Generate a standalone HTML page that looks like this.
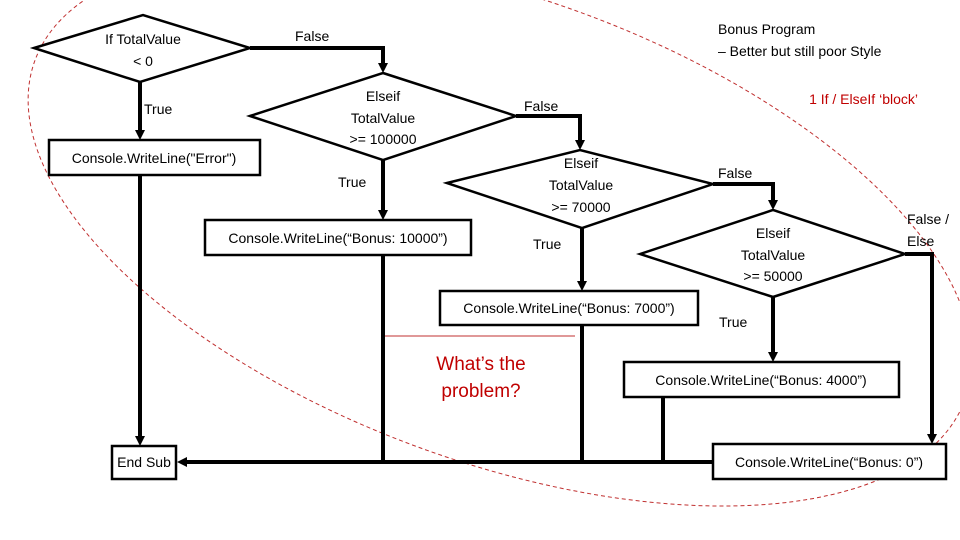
<!DOCTYPE html>
<html><head><meta charset="utf-8"><style>html,body{margin:0;background:#fff;width:960px;height:540px;overflow:hidden}svg{display:block}text{font-family:"Liberation Sans",sans-serif;font-size:14px;fill:#000}</style></head><body>
<svg width="960" height="540" viewBox="0 0 960 540">
<defs><marker id="a" markerWidth="10" markerHeight="10" refX="5" refY="5" orient="auto" markerUnits="userSpaceOnUse"><path d="M0,0 L10,5 L0,10 z" fill="#000"/></marker></defs>
<ellipse cx="500" cy="230" rx="495" ry="232" transform="rotate(20 500 230)" fill="none" stroke="#c03030" stroke-width="1" stroke-dasharray="4,3"/>
<g fill="#fff" stroke="#000" stroke-width="2.5">
<polygon points="34,48 143,15 250,48 140,82"/>
<polygon points="250,116 383,73 516,116 383,160"/>
<polygon points="447,183 580,150 713,184 582,228"/>
<polygon points="640,254 773,210 905,254 773,297"/>
<rect x="49" y="140" width="211" height="35"/>
<rect x="205" y="220" width="266" height="35"/>
<rect x="440" y="291" width="258" height="34"/>
<rect x="624" y="362" width="275" height="35"/>
<rect x="713" y="444" width="233" height="35"/>
<rect x="112" y="446" width="64" height="33"/>
</g>
<g fill="none" stroke="#000" stroke-width="4">
<polyline points="250,48 383,48 383,68" marker-end="url(#a)"/>
<polyline points="140,82 140,135" marker-end="url(#a)"/>
<polyline points="383,160 383,215" marker-end="url(#a)"/>
<polyline points="516,116 580,116 580,145" marker-end="url(#a)"/>
<polyline points="582,228 582,286" marker-end="url(#a)"/>
<polyline points="713,184 773,184 773,205" marker-end="url(#a)"/>
<polyline points="773,297 773,357" marker-end="url(#a)"/>
<polyline points="905,254 932,254 932,439" marker-end="url(#a)"/>
<polyline points="140,175 140,441" marker-end="url(#a)"/>
<line x1="383" y1="255" x2="383" y2="462"/>
<line x1="582" y1="325" x2="582" y2="462"/>
<line x1="663" y1="397" x2="663" y2="462"/>
<polyline points="713,462 182,462" marker-end="url(#a)"/>
</g>
<line x1="385" y1="336" x2="575" y2="336" stroke="#c03030" stroke-width="1"/>
<g text-anchor="middle">
<text x="143" y="44">If TotalValue</text><text x="143" y="66">&lt; 0</text>
<text x="383" y="101">Elseif</text><text x="383" y="123">TotalValue</text><text x="383" y="144">&gt;= 100000</text>
<text x="581" y="168">Elseif</text><text x="581" y="190">TotalValue</text><text x="581" y="212">&gt;= 70000</text>
<text x="773" y="238">Elseif</text><text x="773" y="260">TotalValue</text><text x="773" y="281">&gt;= 50000</text>
<text x="154" y="163">Console.WriteLine("Error")</text>
<text x="338" y="243">Console.WriteLine(“Bonus: 10000”)</text>
<text x="569" y="313">Console.WriteLine(“Bonus: 7000”)</text>
<text x="761" y="385">Console.WriteLine(“Bonus: 4000”)</text>
<text x="829" y="467">Console.WriteLine(“Bonus: 0”)</text>
<text x="144" y="467">End Sub</text>
<text x="481" y="370" style="font-size:19px;fill:#c00000">What’s the</text>
<text x="481" y="397" style="font-size:19px;fill:#c00000">problem?</text>
</g>
<text x="295" y="41">False</text>
<text x="144" y="114">True</text>
<text x="338" y="187">True</text>
<text x="524" y="111">False</text>
<text x="533" y="249">True</text>
<text x="718" y="178">False</text>
<text x="719" y="327">True</text>
<text x="907" y="224">False /</text>
<text x="907" y="246">Else</text>
<text x="718" y="34">Bonus Program</text>
<text x="718" y="56">– Better but still poor Style</text>
<text x="918" y="104" text-anchor="end" style="fill:#c00000">1 If / ElseIf ‘block’</text>
</svg></body></html>
